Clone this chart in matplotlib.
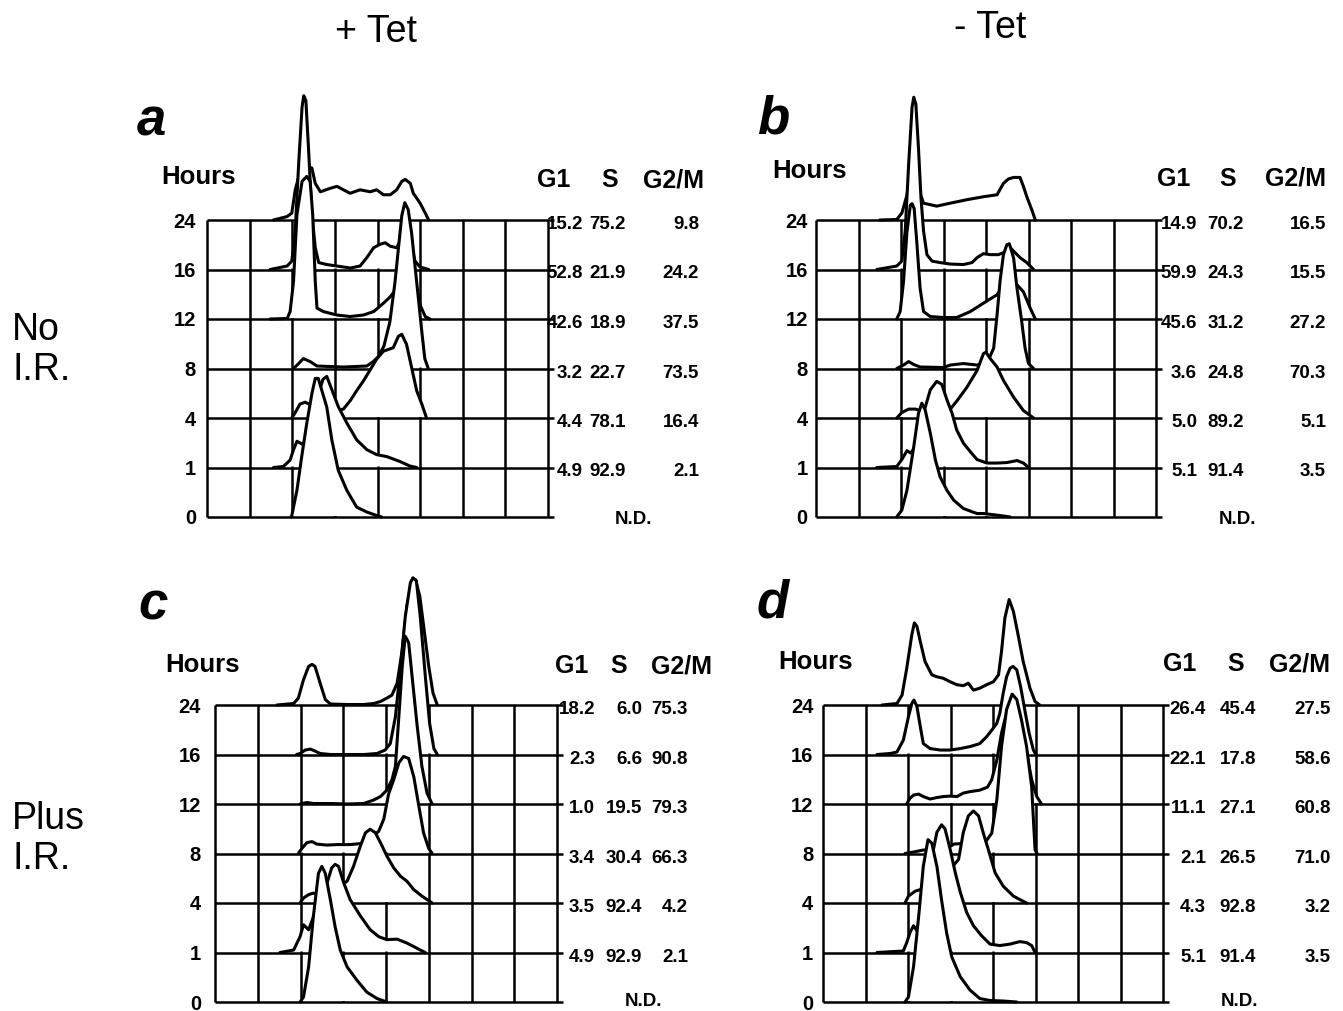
import matplotlib
matplotlib.use("Agg")
import matplotlib.pyplot as plt

W, H = 1343, 1011
plt.rcParams['font.family'] = ['Liberation Sans', 'DejaVu Sans']

# ---------------- data ----------------
hour_labels = ["0", "1", "4", "8", "12", "16", "24"]
phase_headers = ["G1", "S", "G2/M"]
col_titles = ["+ Tet", "- Tet"]
row_titles = [["No", "I.R."], ["Plus", "I.R."]]
panel_letters = ["a", "b", "c", "d"]

# phase percentages, rows 24,16,12,8,4,1 h (0 h = N.D.)
g1_a = [15.2, 52.8, 42.6, 3.2, 4.4, 4.9]
s_a = [75.2, 21.9, 18.9, 22.7, 78.1, 92.9]
g2m_a = [9.8, 24.2, 37.5, 73.5, 16.4, 2.1]
g1_b = [14.9, 59.9, 45.6, 3.6, 5.0, 5.1]
s_b = [70.2, 24.3, 31.2, 24.8, 89.2, 91.4]
g2m_b = [16.5, 15.5, 27.2, 70.3, 5.1, 3.5]
g1_c = [18.2, 2.3, 1.0, 3.4, 3.5, 4.9]
s_c = [6.0, 6.6, 19.5, 30.4, 92.4, 92.9]
g2m_c = [75.3, 90.8, 79.3, 66.3, 4.2, 2.1]
g1_d = [26.4, 22.1, 11.1, 2.1, 4.3, 5.1]
s_d = [45.4, 17.8, 27.1, 26.5, 92.8, 91.4]
g2m_d = [27.5, 58.6, 60.8, 71.0, 3.2, 3.5]

# DNA histograms: x = DNA content (grid columns), h = cell count (rows)
# lists ordered by hour: 0, 1, 4, 8, 12, 16, 24
hist_a_x = [
    [1.97, 1.99, 2.11, 2.22, 2.34, 2.46, 2.54, 2.61, 2.81, 2.93, 3.08, 3.28, 3.51, 3.75, 3.98, 4.10],
    [1.56, 1.79, 1.95, 2.03, 2.11, 2.26, 2.45, 2.62, 2.72, 2.81, 2.93, 3.08, 3.28, 3.51, 3.75, 3.98, 4.22, 4.53, 4.76, 4.92],
    [1.99, 2.07, 2.18, 2.30, 2.40, 2.60, 2.90, 3.20, 3.36, 3.51, 3.67, 3.82, 3.98, 4.14, 4.37, 4.49, 4.57, 4.68, 4.80, 4.92, 5.04, 5.15],
    [2.03, 2.15, 2.26, 2.42, 2.58, 3.20, 3.75, 3.90, 4.02, 4.15, 4.29, 4.41, 4.49, 4.57, 4.64, 4.72, 4.80, 4.88, 4.96, 5.04, 5.11, 5.19],
    [1.48, 1.88, 1.95, 2.03, 2.11, 2.23, 2.34, 2.42, 2.48, 2.54, 2.58, 2.73, 3.05, 3.36, 3.67, 3.91, 4.14, 4.30, 4.45, 4.61, 4.77, 4.88, 5.00, 5.12, 5.23],
    [1.48, 1.88, 1.99, 2.07, 2.15, 2.23, 2.27, 2.32, 2.38, 2.46, 2.54, 2.62, 2.81, 3.05, 3.36, 3.59, 3.75, 3.91, 4.06, 4.18, 4.30, 4.45, 4.61, 4.77, 4.88, 5.00, 5.20],
    [1.56, 1.88, 1.99, 2.07, 2.19, 2.30, 2.46, 2.54, 2.66, 2.89, 3.05, 3.20, 3.36, 3.59, 3.83, 3.98, 4.14, 4.30, 4.45, 4.57, 4.65, 4.77, 4.84, 5.00, 5.12, 5.20],
]
hist_a_h = [
    [0, 0.03, 0.54, 1.21, 1.89, 2.49, 2.80, 2.80, 2.22, 1.55, 0.94, 0.54, 0.20, 0.10, 0.03, 0],
    [0, 0.02, 0.15, 0.36, 0.53, 0.46, 0.90, 1.50, 1.78, 1.84, 1.57, 1.23, 0.90, 0.56, 0.36, 0.26, 0.22, 0.12, 0.03, 0],
    [0, 0.11, 0.28, 0.32, 0.28, 0.20, 0.12, 0.18, 0.35, 0.55, 0.75, 0.96, 1.19, 1.35, 1.42, 1.65, 1.69, 1.49, 1.02, 0.55, 0.28, 0],
    [0, 0.10, 0.20, 0.14, 0.05, 0.03, 0.05, 0.14, 0.24, 0.45, 0.94, 1.74, 2.42, 3.09, 3.35, 3.21, 2.74, 2.07, 1.41, 0.74, 0.20, 0],
    [0, 0.01, 0.15, 0.76, 2.11, 2.78, 2.88, 2.78, 2.11, 0.76, 0.22, 0.15, 0.08, 0.05, 0.08, 0.15, 0.32, 0.45, 0.62, 1.30, 1.16, 0.76, 0.28, 0.05, 0],
    [0, 0.07, 0.17, 0.78, 2.13, 3.28, 3.51, 3.41, 2.47, 1.12, 0.44, 0.14, 0.10, 0.07, 0.03, 0.07, 0.24, 0.44, 0.51, 0.54, 0.47, 0.44, 0.71, 0.57, 0.17, 0.05, 0],
    [0, 0.07, 0.14, 0.61, 1.00, 1.10, 1.05, 0.74, 0.57, 0.64, 0.68, 0.61, 0.54, 0.61, 0.57, 0.61, 0.51, 0.51, 0.61, 0.78, 0.82, 0.74, 0.54, 0.34, 0.14, 0],
]

hist_b_x = [
    [1.90, 2.02, 2.14, 2.30, 2.41, 2.49, 2.57, 2.69, 2.81, 2.92, 3.08, 3.24, 3.47, 3.79, 3.94, 4.33, 4.57],
    [1.43, 1.90, 2.02, 2.14, 2.23, 2.34, 2.53, 2.69, 2.84, 2.96, 3.08, 3.20, 3.31, 3.47, 3.63, 3.79, 4.02, 4.26, 4.49, 4.73, 4.88, 5.00],
    [1.90, 2.02, 2.18, 2.34, 2.45, 2.77, 3.16, 3.32, 3.55, 3.79, 3.94, 4.00, 4.10, 4.26, 4.41, 4.65, 4.88, 5.04, 5.12],
    [1.90, 2.06, 2.18, 2.30, 2.45, 3.00, 3.16, 3.47, 3.79, 4.02, 4.18, 4.26, 4.33, 4.41, 4.49, 4.55, 4.65, 4.73, 4.84, 4.92, 5.00, 5.12],
    [1.90, 1.98, 2.06, 2.14, 2.22, 2.26, 2.31, 2.37, 2.45, 2.53, 2.69, 3.00, 3.31, 3.63, 3.94, 4.26, 4.49, 4.73, 4.88, 5.04, 5.16],
    [1.43, 1.90, 2.02, 2.10, 2.18, 2.26, 2.30, 2.35, 2.41, 2.47, 2.53, 2.61, 2.73, 2.92, 3.16, 3.47, 3.67, 3.79, 3.94, 4.10, 4.29, 4.41, 4.57, 4.80, 4.96, 5.12],
    [1.50, 1.90, 2.02, 2.14, 2.22, 2.30, 2.37, 2.45, 2.53, 2.84, 3.16, 3.55, 3.94, 4.26, 4.41, 4.53, 4.65, 4.80, 4.88, 4.96, 5.08, 5.16],
]
hist_b_h = [
    [0, 0.14, 0.54, 1.42, 2.09, 2.30, 2.16, 1.69, 1.15, 0.81, 0.54, 0.34, 0.17, 0.07, 0.07, 0.03, 0],
    [0, 0.02, 0.16, 0.34, 0.29, 0.43, 1.10, 1.57, 1.74, 1.68, 1.37, 1.10, 0.76, 0.49, 0.32, 0.16, 0.09, 0.09, 0.10, 0.14, 0.09, 0],
    [0, 0.11, 0.18, 0.18, 0.15, 0.10, 0.18, 0.35, 0.62, 0.96, 1.30, 1.33, 1.20, 1.03, 0.76, 0.42, 0.15, 0.05, 0],
    [0, 0.07, 0.14, 0.08, 0.03, 0.02, 0.07, 0.10, 0.07, 0.10, 0.41, 1.08, 1.76, 2.30, 2.50, 2.52, 2.23, 1.62, 0.95, 0.41, 0.10, 0],
    [0, 0.15, 0.76, 1.76, 2.30, 2.33, 2.23, 1.57, 0.62, 0.15, 0.05, 0.03, 0.03, 0.15, 0.32, 0.49, 0.76, 0.69, 0.55, 0.22, 0],
    [0, 0.07, 0.17, 0.78, 2.13, 3.28, 3.48, 3.34, 2.47, 1.45, 0.78, 0.30, 0.17, 0.14, 0.11, 0.10, 0.14, 0.24, 0.32, 0.30, 0.30, 0.34, 0.44, 0.24, 0.14, 0],
    [0, 0.01, 0.14, 0.50, 0.90, 1.00, 0.80, 0.54, 0.34, 0.28, 0.34, 0.41, 0.47, 0.51, 0.74, 0.83, 0.86, 0.86, 0.68, 0.47, 0.20, 0],
]

hist_c_x = [
    [1.99, 2.07, 2.19, 2.30, 2.42, 2.50, 2.58, 2.70, 2.81, 2.93, 3.09, 3.32, 3.55, 3.79, 4.02],
    [1.52, 1.84, 1.99, 2.07, 2.19, 2.38, 2.62, 2.73, 2.81, 2.89, 3.01, 3.16, 3.40, 3.63, 3.83, 4.02, 4.26, 4.49, 4.65, 4.80, 4.92],
    [1.99, 2.07, 2.19, 2.30, 2.38, 2.62, 2.85, 3.09, 3.24, 3.40, 3.52, 3.63, 3.75, 3.87, 4.02, 4.18, 4.34, 4.49, 4.65, 4.84, 4.96, 5.08],
    [1.95, 2.03, 2.15, 2.27, 2.38, 2.62, 2.85, 3.16, 3.40, 3.63, 3.83, 3.95, 4.06, 4.18, 4.30, 4.41, 4.53, 4.65, 4.77, 4.88, 5.00, 5.08],
    [1.99, 2.15, 2.30, 2.70, 3.09, 3.48, 3.71, 3.87, 4.02, 4.14, 4.22, 4.30, 4.38, 4.45, 4.53, 4.61, 4.73, 4.84, 4.96, 5.08],
    [1.91, 1.99, 2.11, 2.23, 2.34, 2.46, 2.70, 3.48, 3.79, 3.98, 4.10, 4.22, 4.34, 4.45, 4.57, 4.63, 4.71, 4.80, 4.92, 5.02, 5.12, 5.20],
    [1.45, 1.84, 1.95, 2.07, 2.19, 2.27, 2.34, 2.46, 2.58, 2.70, 3.09, 3.48, 3.71, 3.87, 4.02, 4.14, 4.26, 4.38, 4.49, 4.61, 4.69, 4.79, 4.88, 5.00, 5.10, 5.20],
]
hist_c_h = [
    [0, 0.10, 0.71, 1.72, 2.60, 2.74, 2.60, 2.06, 1.52, 1.05, 0.71, 0.44, 0.20, 0.07, 0],
    [0, 0.05, 0.32, 0.56, 0.46, 0.90, 1.40, 1.71, 1.78, 1.74, 1.41, 1.07, 0.74, 0.46, 0.32, 0.26, 0.27, 0.19, 0.12, 0.05, 0],
    [0, 0.10, 0.17, 0.20, 0.17, 0.20, 0.30, 0.44, 0.74, 1.15, 1.42, 1.49, 1.42, 1.22, 0.95, 0.71, 0.54, 0.44, 0.27, 0.14, 0.07, 0],
    [0, 0.10, 0.22, 0.24, 0.19, 0.17, 0.18, 0.18, 0.20, 0.30, 0.45, 0.70, 1.20, 1.49, 1.83, 1.96, 1.92, 1.55, 0.95, 0.41, 0.10, 0],
    [0, 0.03, 0.01, 0.01, 0, 0.01, 0.08, 0.15, 0.28, 0.49, 0.76, 1.76, 2.78, 3.39, 3.26, 2.58, 1.57, 0.76, 0.22, 0],
    [0, 0.02, 0.09, 0.11, 0.07, 0.02, 0, 0, 0.02, 0.09, 0.22, 0.76, 1.77, 2.78, 3.47, 3.57, 3.51, 2.80, 1.58, 0.63, 0.12, 0],
    [0, 0.03, 0.14, 0.51, 0.78, 0.82, 0.78, 0.44, 0.11, 0.02, 0.01, 0.01, 0.03, 0.07, 0.14, 0.20, 0.44, 1.11, 2.00, 2.50, 2.53, 2.20, 1.60, 0.78, 0.24, 0],
]

hist_d_x = [
    [1.93, 2.01, 2.13, 2.25, 2.36, 2.47, 2.56, 2.68, 2.79, 2.91, 3.03, 3.23, 3.46, 3.69, 3.93, 4.24, 4.56],
    [1.27, 1.89, 1.97, 2.05, 2.13, 2.21, 2.44, 2.68, 2.79, 2.87, 2.99, 3.11, 3.23, 3.38, 3.54, 3.73, 3.93, 4.16, 4.40, 4.63, 4.79, 4.91, 4.99],
    [1.93, 2.01, 2.17, 2.29, 2.36, 2.68, 2.99, 3.19, 3.30, 3.42, 3.54, 3.66, 3.77, 3.89, 4.05, 4.24, 4.48, 4.63, 4.79],
    [1.93, 2.13, 2.36, 2.68, 2.91, 3.08, 3.23, 3.46, 3.77, 3.97, 4.09, 4.20, 4.32, 4.45, 4.56, 4.67, 4.79, 4.91, 4.96, 4.99, 5.04],
    [1.97, 2.04, 2.13, 2.25, 2.36, 2.52, 2.68, 2.83, 2.99, 3.15, 3.30, 3.46, 3.69, 3.87, 3.97, 4.09, 4.20, 4.32, 4.44, 4.56, 4.67, 4.79, 4.91, 5.03, 5.14],
    [1.27, 1.58, 1.74, 1.89, 2.01, 2.09, 2.14, 2.21, 2.29, 2.36, 2.52, 2.76, 2.99, 3.23, 3.46, 3.69, 3.85, 3.97, 4.09, 4.16, 4.24, 4.32, 4.40, 4.47, 4.56, 4.65, 4.75, 4.85, 4.95, 5.01],
    [1.39, 1.74, 1.86, 1.97, 2.09, 2.15, 2.21, 2.29, 2.40, 2.56, 2.68, 2.83, 2.99, 3.15, 3.30, 3.42, 3.54, 3.69, 3.85, 4.01, 4.13, 4.20, 4.28, 4.38, 4.48, 4.59, 4.71, 4.87, 4.99, 5.10],
]
hist_d_h = [
    [0, 0.10, 0.71, 1.72, 2.74, 3.28, 3.21, 2.74, 2.06, 1.39, 0.91, 0.51, 0.24, 0.07, 0.03, 0.02, 0],
    [0, 0.03, 0.20, 0.41, 0.54, 0.44, 1.40, 2.43, 2.58, 2.50, 2.09, 1.62, 1.22, 0.81, 0.54, 0.34, 0.17, 0.14, 0.17, 0.22, 0.20, 0.14, 0],
    [0, 0.14, 0.24, 0.27, 0.27, 0.30, 0.68, 0.88, 1.42, 1.76, 1.86, 1.76, 1.42, 1.08, 0.61, 0.34, 0.14, 0.07, 0],
    [0, 0.03, 0.07, 0.08, 0.10, 0.19, 0.20, 0.18, 0.17, 0.41, 1.08, 2.16, 2.91, 3.22, 3.11, 2.70, 2.16, 1.35, 0.54, 0.07, 0],
    [0, 0.11, 0.18, 0.20, 0.15, 0.10, 0.13, 0.15, 0.16, 0.15, 0.22, 0.25, 0.28, 0.34, 0.49, 0.89, 1.43, 1.84, 1.97, 1.91, 1.57, 1.03, 0.49, 0.15, 0],
    [0, 0.02, 0.05, 0.29, 0.76, 1.03, 1.10, 0.97, 0.56, 0.22, 0.12, 0.09, 0.09, 0.12, 0.16, 0.22, 0.36, 0.49, 0.63, 0.83, 1.24, 1.57, 1.74, 1.78, 1.71, 1.37, 0.89, 0.43, 0.09, 0],
    [0, 0.03, 0.20, 0.74, 1.42, 1.66, 1.59, 1.28, 0.88, 0.61, 0.57, 0.54, 0.47, 0.41, 0.39, 0.44, 0.30, 0.34, 0.41, 0.47, 0.61, 1.08, 1.76, 2.13, 1.89, 1.42, 0.88, 0.34, 0.07, 0],
]

# ---------------- layout (pixels) ----------------
panels = [
    dict(box=(207, 220, 548, 517), xs=hist_a_x, hs=hist_a_h, vals=(g1_a, s_a, g2m_a),
         letter=(137, 135), hours=(198, 177), pad=8.0, head_y=180,
         head_dx=(6, 62, 125), num_dx=(35, 78, 151), nd_dx=86, nd_dy=3),
    dict(box=(816, 220, 1156, 517), xs=hist_b_x, hs=hist_b_h, vals=(g1_b, s_b, g2m_b),
         letter=(757, 133), hours=(810, 171), pad=6.0, head_y=179,
         head_dx=(18, 72, 139), num_dx=(41, 88, 170), nd_dx=82, nd_dy=3),
    dict(box=(215, 705, 557, 1002), xs=hist_c_x, hs=hist_c_h, vals=(g1_c, s_c, g2m_c),
         letter=(138, 620), hours=(203, 665), pad=10.0, head_y=666,
         head_dx=(15, 62, 124), num_dx=(38, 85, 131), nd_dx=87, nd_dy=-1),
    dict(box=(823, 705, 1163, 1002), xs=hist_d_x, hs=hist_d_h, vals=(g1_d, s_d, g2m_d),
         letter=(757, 618), hours=(816, 662), pad=7.0, head_y=664,
         head_dx=(17, 73, 137), num_dx=(43, 93, 168), nd_dx=77, nd_dy=-1),
]

fig = plt.figure(figsize=(W / 100, H / 100), dpi=100)
fig.patch.set_facecolor("white")


def fx(x):
    return x / W


def fy(y):
    return 1 - y / H


PX = 0.72  # points per pixel at 100 dpi
GRID_LW = 1.8
CURVE_LW = 2.2
NUM_FS = 13.5

for letter, p in zip(panel_letters, panels):
    l, t, r, b = p["box"]
    ax = fig.add_axes([fx(l), fy(b), (r - l) / W, (b - t) / H])
    ax.set_xlim(0, 8)
    ax.set_ylim(0, 6)
    for s in ax.spines.values():
        s.set_visible(False)
    ax.set_xticks([])
    ax.set_yticks(range(len(hour_labels)))
    ax.set_yticklabels(hour_labels, fontsize=14.5, fontweight="bold")
    ax.tick_params(axis="y", length=0, pad=p["pad"])
    ax.patch.set_alpha(0)

    # grid
    ax.vlines(range(9), 0, 6, color="black", lw=GRID_LW, zorder=1, clip_on=False)
    ax.hlines(range(7), 0, 8.13, color="black", lw=GRID_LW, zorder=1, clip_on=False)

    # histograms, back (24 h) to front (0 h), white-filled so front hides back
    for row in range(6, -1, -1):
        xs = p["xs"][row]
        hs = p["hs"][row]
        top = [row + v for v in hs]
        z = 10 + (6 - row) * 2
        ax.fill_between(xs, row + 0.03, top, color="white", lw=0, zorder=z, clip_on=False)
        ax.plot(xs, top, color="black", lw=CURVE_LW, zorder=z + 1, clip_on=False,
                solid_joinstyle="round", solid_capstyle="round")

    # percentages
    g1, s, g2m = p["vals"]
    for k in range(6):
        row = 6 - k
        for vals, dx in zip((g1, s, g2m), p["num_dx"]):
            ax.annotate(f"{vals[k]:.1f}", xy=(8, row), xycoords="data",
                        xytext=(dx * PX, -4.5 * PX), textcoords="offset points",
                        ha="right", va="center", fontsize=NUM_FS, fontweight="bold",
                        annotation_clip=False)
    ax.annotate("N.D.", xy=(8, 0), xycoords="data",
                xytext=(p["nd_dx"] * PX, -p["nd_dy"] * PX), textcoords="offset points",
                ha="center", va="center", fontsize=NUM_FS, fontweight="bold",
                annotation_clip=False)

    # headers
    for name, dx in zip(phase_headers, p["head_dx"]):
        fig.text(fx(r + dx), fy(p["head_y"]), name, ha="center", va="center",
                 fontsize=18, fontweight="bold")
    fig.text(fx(p["hours"][0]), fy(p["hours"][1]), "Hours", ha="center", va="center",
             fontsize=18.5, fontweight="bold")
    fig.text(fx(p["letter"][0]), fy(p["letter"][1]), letter, ha="left", va="baseline",
             fontsize=38, fontweight="bold", fontstyle="italic")

# column and row titles
fig.text(fx(376), fy(42), col_titles[0], ha="center", va="baseline", fontsize=27)
fig.text(fx(990), fy(38), col_titles[1], ha="center", va="baseline", fontsize=27)
fig.text(fx(12), fy(340), row_titles[0][0], ha="left", va="baseline", fontsize=27)
fig.text(fx(12), fy(380), row_titles[0][1], ha="left", va="baseline", fontsize=27)
fig.text(fx(12), fy(829), row_titles[1][0], ha="left", va="baseline", fontsize=27)
fig.text(fx(12), fy(869), row_titles[1][1], ha="left", va="baseline", fontsize=27)

fig.savefig("out.png", dpi=100, facecolor="white")
